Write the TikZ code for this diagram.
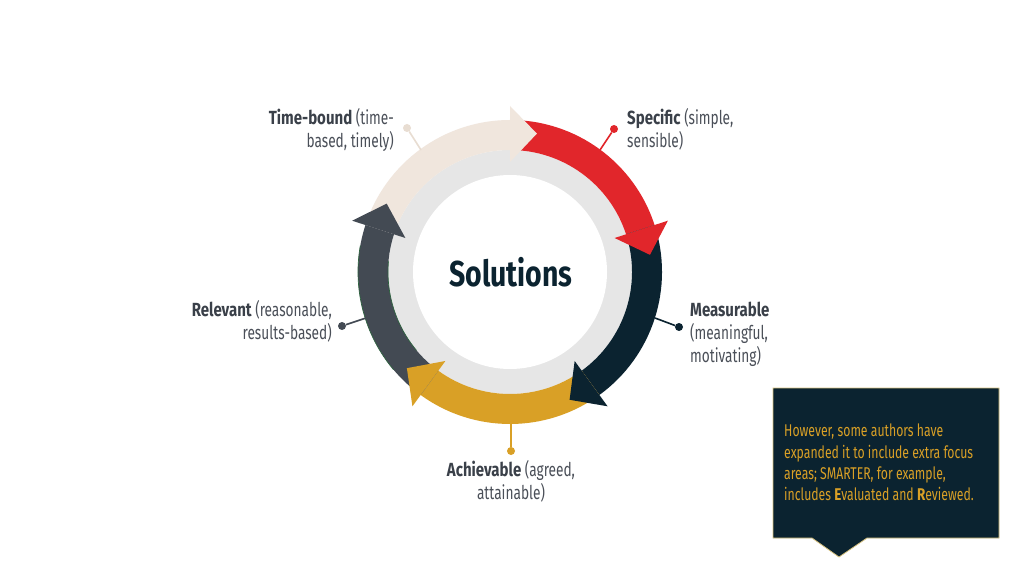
\documentclass[tikz,border=0pt]{standalone}
\usepackage{fontspec}
\setmainfont{Fira Sans}[FakeStretch=0.72, BoldFeatures={FakeStretch=0.79}]
\definecolor{cred}{HTML}{E1262B}
\definecolor{cnavy}{HTML}{0B2330}
\definecolor{cgold}{HTML}{D9A026}
\definecolor{cgray}{HTML}{434A53}
\definecolor{cbeige}{HTML}{F0E6DD}
\definecolor{cbeigedot}{HTML}{E8DDD2}
\definecolor{cdisk}{HTML}{E6E6E6}
\definecolor{ctext}{HTML}{4A4F58}
\definecolor{cbold}{HTML}{3A4049}
\definecolor{cgreen}{HTML}{2F6340}
\definecolor{cboxborder}{HTML}{D8C27E}
\newcommand\ringband[3]{\fill[#1] (#2:152pt) arc[start angle=#2,end angle=#3,radius=152pt] -- (#3:122pt) arc[start angle=#3,end angle=#2,radius=122pt] -- cycle;}
\newcommand\ringhead[2]{\fill[#1] (#2:166pt) -- ({#2-11}:141pt) -- (#2:110pt) -- cycle;}
\newcommand\lbl[2]{{\color{cbold}\bfseries #1}\ #2}
\begin{document}
\begin{tikzpicture}[x=1pt,y=1pt,
  labeltext/.style={inner sep=0pt, text=ctext, font=\fontsize{19}{23}\selectfont},
  leader/.style={line width=1.6pt},
  leaderdot/.style={circle, inner sep=0pt, minimum size=8pt}]
\useasboundingbox (0,0) rectangle (1024,576);
\fill[white] (0,0) rectangle (1024,576);
\coordinate (C) at (510,304);
\begin{scope}[shift={(510,304)}]
  \fill[cdisk] (0,0) circle[radius=122pt];
  \fill[white] (0,0) circle[radius=97pt];
  \ringband{cbeige}{162}{90}
  \ringband{cred}{90}{18}
  \ringband{cnavy}{18}{-54}
  \ringband{cgold}{-54}{-126}
  \ringband{cgray}{-126}{-198}
  \draw[cgreen, line width=0.7pt] (-140:152pt) arc[start angle=-140,end angle=-190,radius=152pt];
  \draw[cgreen, line width=0.7pt] (-140:122pt) arc[start angle=-140,end angle=-185,radius=122pt];
  \ringhead{cbeige}{90}
  \ringhead{cred}{18}
  \ringhead{cnavy}{-54}
  \ringhead{cgold}{-126}
  \ringhead{cgray}{-198}
\end{scope}
\node[font=\bfseries\fontsize{36}{36}\selectfont, text=cnavy, inner sep=0pt, anchor=base] (sol) at (511,289) {Solutions};

% leaders
\coordinate (rT) at (421,426);
\coordinate (rS) at (600,426);
\coordinate (rM) at (655,258);
\coordinate (rR) at (366,258);
\coordinate (rA) at (511,152);
\node[leaderdot, fill=cbeigedot] (dT) at (407,448) {};
\node[leaderdot, fill=cred] (dS) at (614,447) {};
\node[leaderdot, fill=cnavy] (dM) at (679,249) {};
\node[leaderdot, fill=cgray] (dR) at (342,250) {};
\node[leaderdot, fill=cgold] (dA) at (511,125) {};
\draw[leader, cbeigedot] (dT) -- (rT);
\draw[leader, cred] (dS) -- (rS);
\draw[leader, cnavy] (dM) -- (rM);
\draw[leader, cgray] (dR) -- (rR);
\draw[leader, cgold] (dA) -- (rA);

% labels
\node[labeltext, anchor=north east, align=right] (tT) at (394,468) {\lbl{Time-bound}{(time-}\\based, timely)};
\node[labeltext, anchor=north west, align=left] (tS) at (627,468) {\lbl{Specific}{(simple,}\\sensible)};
\node[labeltext, anchor=north west, align=left] (tM) at (690,274) {{\color{cbold}\bfseries Measurable}\\(meaningful,\\motivating)};
\node[labeltext, anchor=north east, align=right] (tR) at (332,276) {\lbl{Relevant}{(reasonable,}\\results-based)};
\node[labeltext, anchor=north, align=center] (tA) at (511,116) {\lbl{Achievable}{(agreed,}\\attainable)};

% callout
\draw[fill=cnavy, draw=cboxborder, line width=0.8pt] (773,188) -- (999,188) -- (999,38) -- (867,38) -- (839,19) -- (812,38) -- (773,38) -- cycle;
\node[inner sep=0pt, anchor=north west, align=left, text=cgold, font=\fontsize{17}{21.3}\selectfont] (note) at (784,152)
  {However, some authors have\\expanded it to include extra focus\\areas; SMARTER, for example,\\includes \textbf{E}valuated and \textbf{R}eviewed.};
\end{tikzpicture}
\end{document}
